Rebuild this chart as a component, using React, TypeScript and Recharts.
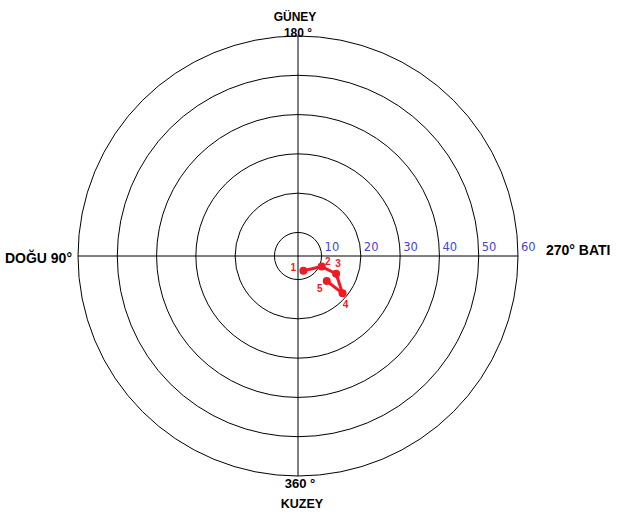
import {
	RadarChart,
	Radar,
	PolarGrid,
	PolarAngleAxis,
	PolarRadiusAxis,
} from "recharts";

// track points, numbered as on the plot
const pointIds = [1, 2, 3, 4, 5];
const bearings = [340, 294, 295, 310, 311];
const distances = [8.0, 10.6, 14.7, 18.8, 13.7];

const radiusTicks = [10, 20, 30, 40, 50, 60];
const angleTicks = [90, 180, 270, 360];

const RED = "#ed1c24";
const BLUE = "#3f48cc";

// where each point number sits relative to its dot
const LABEL_OFFSET: Record<number, [number, number]> = {
	1: [-10, -3],
	2: [6, -5],
	3: [2, -10],
	4: [3, 11],
	5: [-7, 7],
};

const data = pointIds.map((id, i) => ({ id, angle: bearings[i], dist: distances[i] }));

const labelFont = "'Liberation Sans', Arial, sans-serif";

function AngleTick({ x, y, payload }: any) {
	const v = payload.value;
	const common = { fill: "#000", fontFamily: labelFont, fontWeight: "bold" as const };
	if (v === 180) {
		return (
			<g>
				<text x={x - 3} y={y - 7} textAnchor="middle" fontSize={12} {...common}>
					GÜNEY
				</text>
				<text x={x} y={y + 9} textAnchor="middle" fontSize={12} {...common}>
					180 °
				</text>
			</g>
		);
	}
	if (v === 360) {
		return (
			<g>
				<text x={x + 2} y={y + 4} textAnchor="middle" fontSize={13} {...common}>
					360 °
				</text>
				<text x={x + 4} y={y + 24} textAnchor="middle" fontSize={12.5} {...common}>
					KUZEY
				</text>
			</g>
		);
	}
	if (v === 90) {
		return (
			<text x={x + 2} y={y + 7} textAnchor="end" fontSize={14} {...common}>
				DOĞU 90°
			</text>
		);
	}
	return (
		<text x={x + 20} y={y - 1} textAnchor="start" fontSize={14} {...common}>
			270°  BATI
		</text>
	);
}

function RadiusTick({ x, y, payload }: any) {
	return (
		<text x={x + 3} y={y - 5} fill={BLUE} fontSize={11.5} fontFamily="'DejaVu Sans', sans-serif">
			{payload.value}
		</text>
	);
}

// open polyline through the radar points (a Radar normally closes its polygon)
function TrackPath(props: any) {
	const pts = (props.points || []).filter(
		(p: any) => Number.isFinite(p.x) && Number.isFinite(p.y),
	);
	if (!pts.length) return null;
	const d = pts.map((p: any, i: number) => `${i ? "L" : "M"}${p.x},${p.y}`).join("");
	return <path d={d} fill="none" stroke={RED} strokeWidth={3} strokeLinejoin="round" />;
}

function TrackDot(props: any) {
	const { cx, cy, index } = props;
	if (!Number.isFinite(cx) || !Number.isFinite(cy)) return <g key={`d${index}`} />;
	const row = props.payload?.payload ?? props.payload;
	const id = row?.id ?? pointIds[index];
	const [dx, dy] = LABEL_OFFSET[id] ?? [0, 0];
	return (
		<g key={`d${index}`}>
			<circle cx={cx} cy={cy} r={4} fill={RED} />
			<text
				x={cx + dx}
				y={cy + dy}
				textAnchor="middle"
				dominantBaseline="central"
				fill={RED}
				fontSize={10}
				fontWeight="bold"
				fontFamily={labelFont}
			>
				{id}
			</text>
		</g>
	);
}

export default function App() {
	return (
		<div style={{ position: "absolute", left: 0, top: 0, background: "#fff" }}>
			<RadarChart
				width={617}
				height={514}
				data={data}
				cx={298}
				cy={256}
				innerRadius={0}
				outerRadius={220}
				startAngle={270}
				endAngle={-90}
			>
				<PolarGrid gridType="circle" stroke="#000" strokeOpacity={1} />
				<PolarAngleAxis
					dataKey="angle"
					type="number"
					domain={[0, 360]}
					allowDataOverflow
					ticks={angleTicks}
					tick={<AngleTick />}
					tickLine={false}
					axisLine={false}
				/>
				<PolarRadiusAxis
					type="number"
					domain={[4, 60]}
					allowDataOverflow
					ticks={radiusTicks}
					tick={<RadiusTick />}
					tickLine={false}
					axisLine={false}
				/>
				<Radar
					dataKey="dist"
					stroke={RED}
					strokeWidth={3}
					fill="none"
					shape={TrackPath}
					dot={<TrackDot />}
					isAnimationActive={false}
				/>
			</RadarChart>
		</div>
	);
}
